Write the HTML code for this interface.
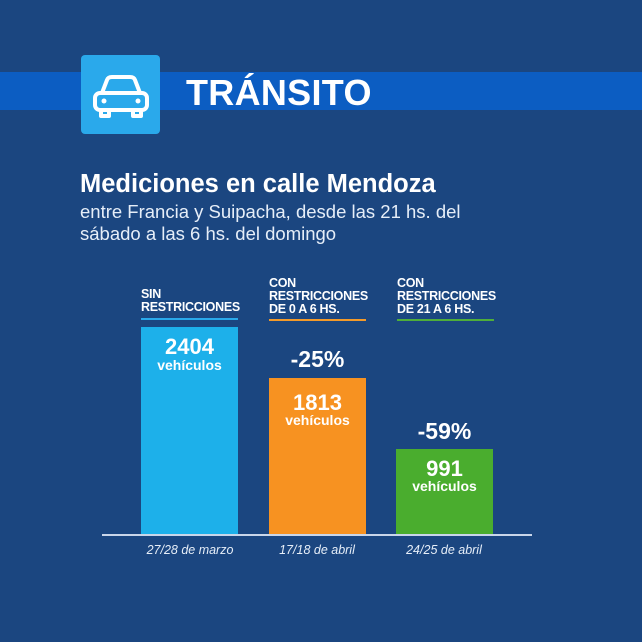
<!DOCTYPE html>
<html><head><meta charset="utf-8"><style>
body{margin:0;width:642px;height:642px;background:#1b4680;position:relative;overflow:hidden;font-family:"Liberation Sans",sans-serif;color:#fff}
div{position:absolute}
.band{left:0;top:72px;width:642px;height:38px;background:#0c5dc2}
.icon{left:81px;top:55px;width:79px;height:79px;background:#2aa9eb;border-radius:4px}
.tr{left:186px;top:72px;font-size:36px;font-weight:bold;letter-spacing:0.3px}
.h1{left:80px;top:170px;font-size:25.5px;font-weight:bold}
.sub{left:80px;top:201px;font-size:18.5px;line-height:22px;color:#e6eef8}
.bar{width:97px}
.lab{font-size:12.5px;font-weight:bold;line-height:13px;letter-spacing:-0.3px}
.ul{height:2px;width:97px}
.num{width:97px;text-align:center;font-weight:bold;font-size:22px;line-height:22px}
.veh{width:97px;text-align:center;font-weight:bold;font-size:14px;line-height:14px}
.pct{width:97px;text-align:center;font-weight:bold;font-size:23px}
.date{width:140px;text-align:center;font-style:italic;font-size:12.5px;top:543px;color:#e6eef8}
</style></head><body>
<div class="band"></div>
<div class="icon"><svg width="79" height="79" viewBox="0 0 79 79" fill="none" stroke="#fff" stroke-width="4" stroke-linejoin="round">
<path d="M21 38 L26 25 Q27 22 31 22 L49 22 Q53 22 54 25 L59 38"/>
<rect x="14" y="38" width="52" height="17" rx="5"/>
<path d="M20 55 v6 h8 v-6 M52 55 v6 h8 v-6"/>
<circle cx="23" cy="46" r="2.5" fill="#fff" stroke="none"/><circle cx="57" cy="46" r="2.5" fill="#fff" stroke="none"/>
</svg></div>
<div class="tr">TRÁNSITO</div>
<div class="h1">Mediciones en calle Mendoza</div>
<div class="sub">entre Francia y Suipacha, desde las 21 hs. del<br>sábado a las 6 hs. del domingo</div>

<div class="lab" style="left:141px;top:288px">SIN<br>RESTRICCIONES</div>
<div class="ul" style="left:141px;top:318px;background:#2aa9eb"></div>
<div class="lab" style="left:269px;top:277px">CON<br>RESTRICCIONES<br>DE 0 A 6 HS.</div>
<div class="ul" style="left:269px;top:319px;background:#f39a2a"></div>
<div class="lab" style="left:397px;top:277px">CON<br>RESTRICCIONES<br>DE 21 A 6 HS.</div>
<div class="ul" style="left:397px;top:319px;background:#4fae3a"></div>

<div class="bar" style="left:141px;top:327px;height:207px;background:#1db0ea"></div>
<div class="bar" style="left:269px;top:378px;height:156px;background:#f79221"></div>
<div class="bar" style="left:396px;top:449px;height:85px;background:#4aad2e"></div>

<div class="num" style="left:141px;top:336px">2404</div>
<div class="veh" style="left:141px;top:358px">vehículos</div>
<div class="pct" style="left:269px;top:346px">-25%</div>
<div class="num" style="left:269px;top:392px">1813</div>
<div class="veh" style="left:269px;top:413px">vehículos</div>
<div class="pct" style="left:396px;top:418px">-59%</div>
<div class="num" style="left:396px;top:458px">991</div>
<div class="veh" style="left:396px;top:479px">vehículos</div>

<div style="left:102px;top:534px;width:430px;height:2px;background:#c9d6ea"></div>
<div class="date" style="left:120px">27/28 de marzo</div>
<div class="date" style="left:247px">17/18 de abril</div>
<div class="date" style="left:374px">24/25 de abril</div>
</body></html>
